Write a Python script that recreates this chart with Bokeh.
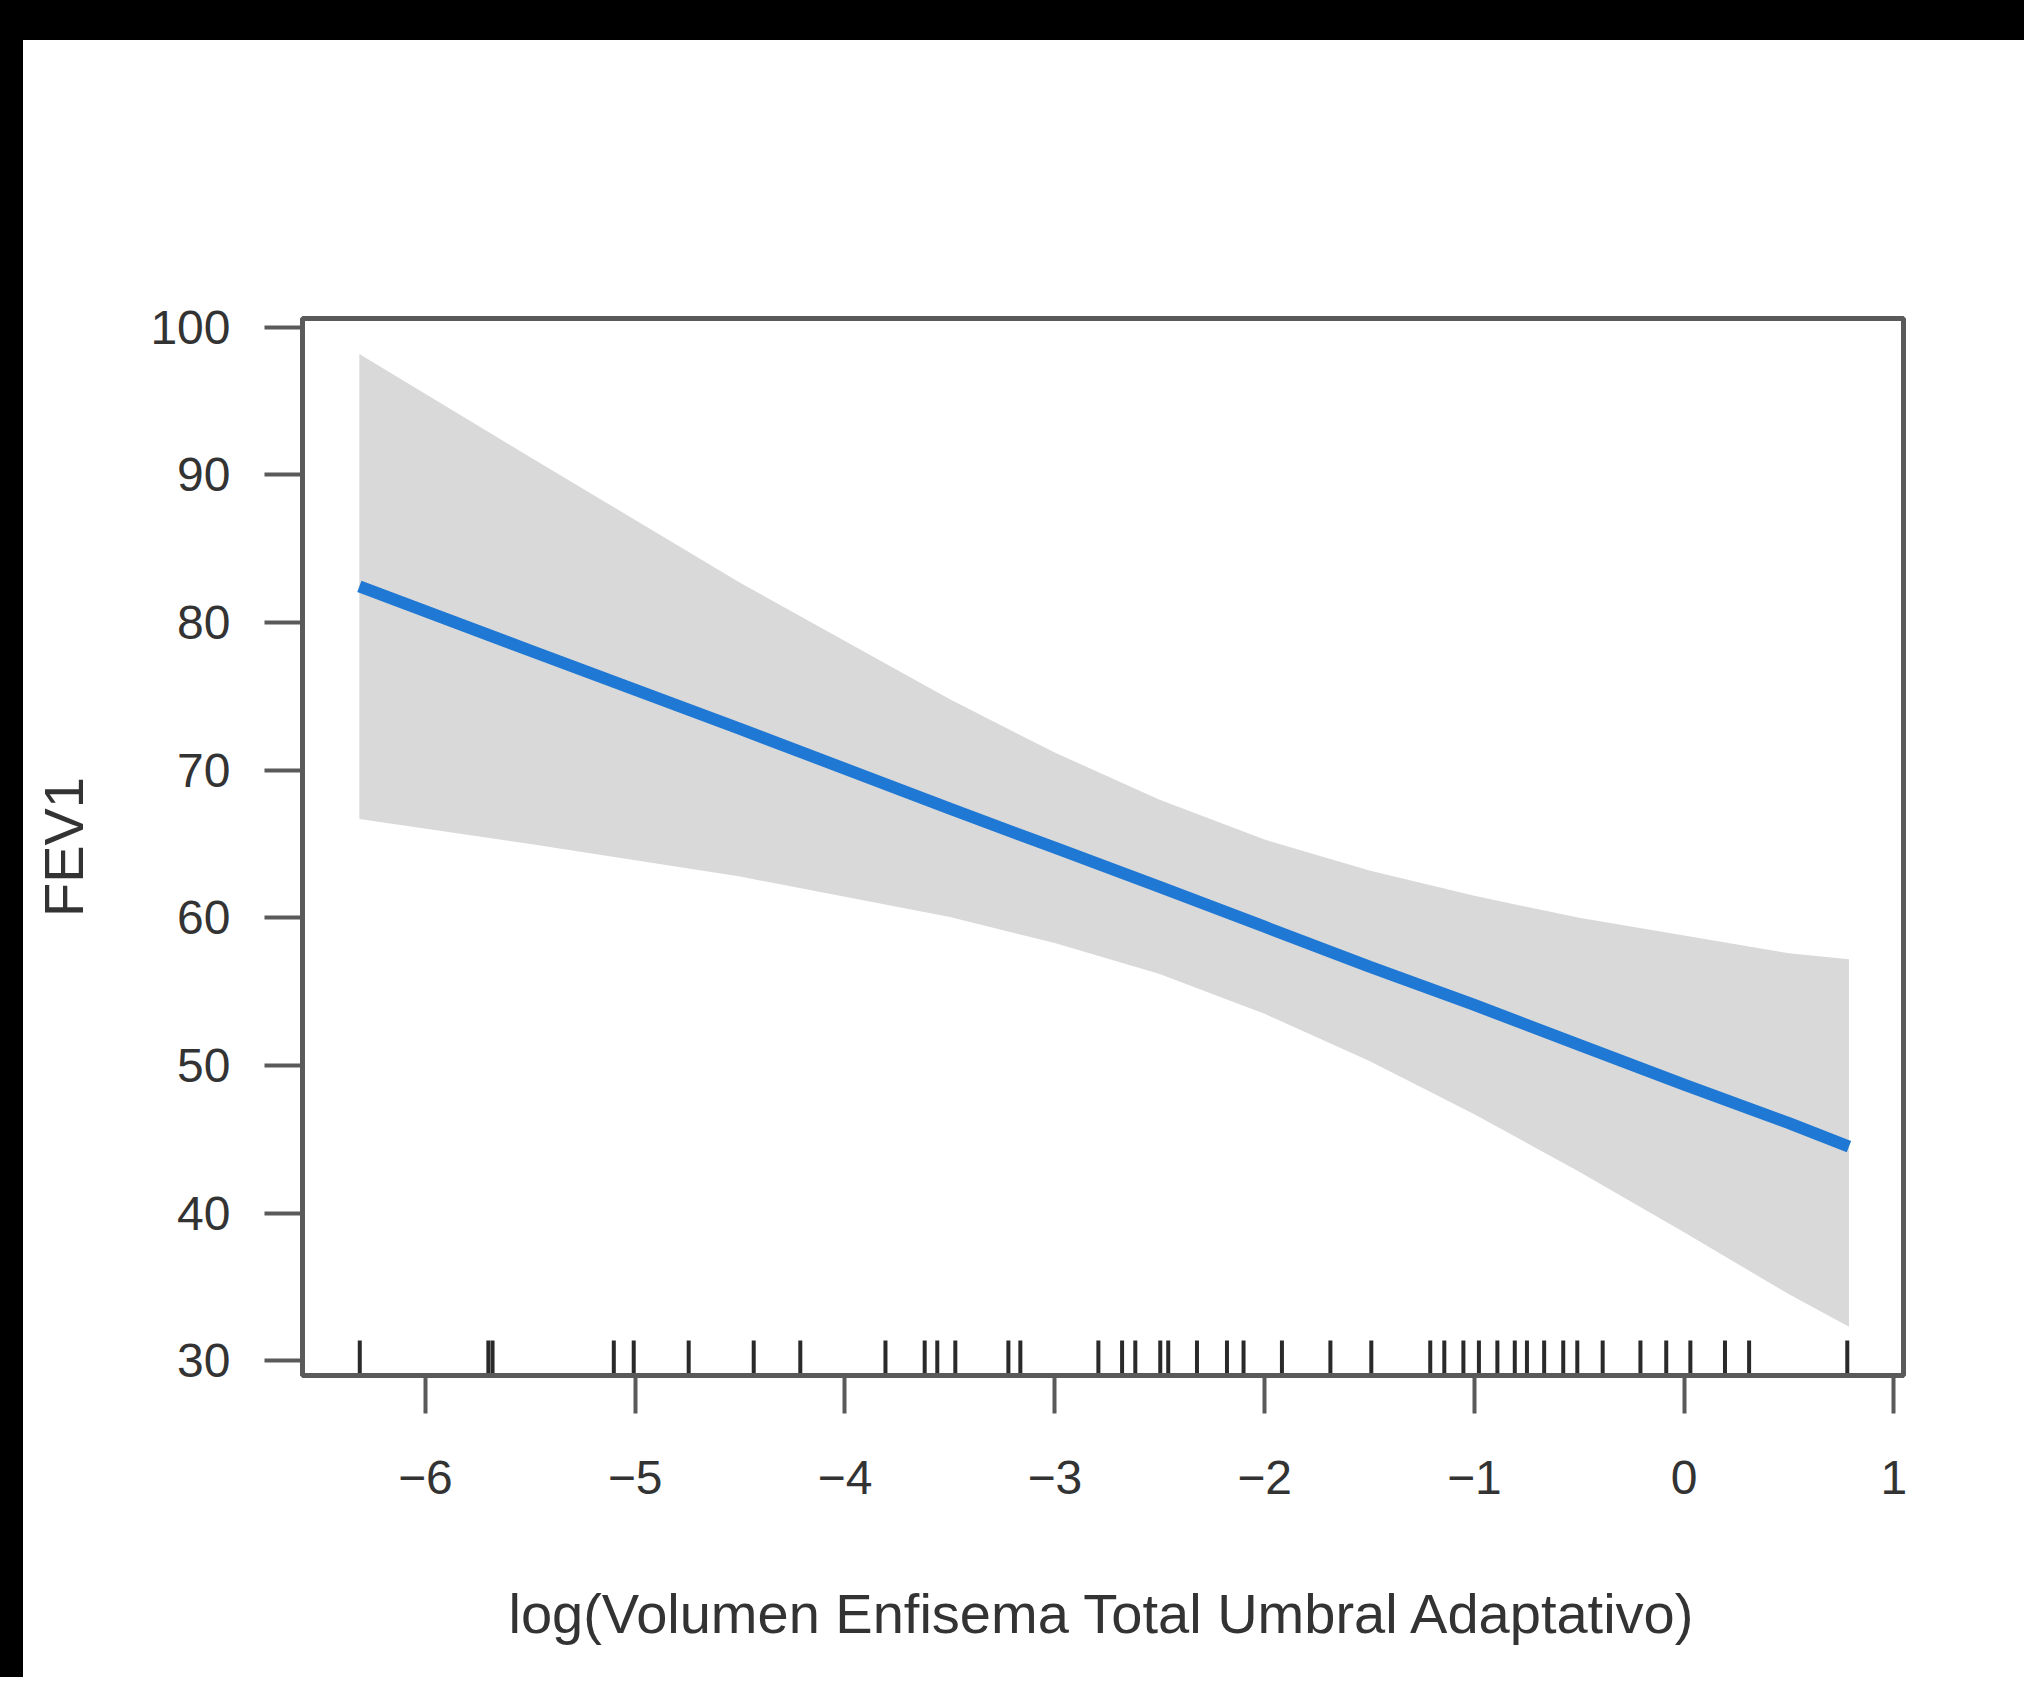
from bokeh.plotting import figure
from bokeh.models import FixedTicker, Range1d, Div
from bokeh.layouts import column, row
from bokeh.embed import file_html
from bokeh.resources import INLINE

# ---- data ----
x_grid = [-6.315, -5.5, -4.5, -3.5, -3.0, -2.5, -2.0, -1.5, -1.0, -0.5, 0.0, 0.5, 0.786]
fit = [82.45, 78.1, 72.8, 67.4, 64.75, 62.1, 59.4, 56.7, 54.1, 51.4, 48.7, 46.1, 44.5]
upper = [98.2, 91.2, 82.7, 74.8, 71.2, 68.0, 65.3, 63.2, 61.5, 60.0, 58.8, 57.6, 57.2]
lower = [66.7, 65.0, 62.8, 60.05, 58.3, 56.2, 53.5, 50.3, 46.7, 42.8, 38.7, 34.5, 32.3]

rug_x = [-6.313, -5.70, -5.68, -5.102, -5.007, -4.745, -4.435, -4.213,
         -3.807, -3.62, -3.56, -3.474, -3.221, -3.164, -2.792, -2.679, -2.616,
         -2.497, -2.459, -2.322, -2.179, -2.100, -1.917, -1.686, -1.491,
         -1.210, -1.143, -1.052, -0.978, -0.890, -0.807, -0.749, -0.667,
         -0.576, -0.509, -0.388, -0.208, -0.085, 0.030, 0.195, 0.310, 0.778]

x_ticks = [-6, -5, -4, -3, -2, -1, 0, 1]
x_tick_labels = ["\u22126", "\u22125", "\u22124", "\u22123", "\u22122", "\u22121", "0", "1"]
y_ticks = [30, 40, 50, 60, 70, 80, 90, 100]

x_label = "log(Volumen Enfisema Total Umbral Adaptativo)"
y_label = "FEV1"

# ---- figure ----
FONT = "Liberation Sans"
TXT = "#333333"
LINE = "#5a5a5a"

y0, y1 = 29.0, 100.6
p = figure(width=1993, height=1637, output_backend="svg", toolbar_location=None,
           x_range=Range1d(-6.586, 1.046), y_range=Range1d(y0, y1),
           min_border_left=279, min_border_top=278, min_border_right=113,
           min_border_bottom=302, background_fill_color="white",
           border_fill_color="white", outline_line_color=LINE, outline_line_width=5)
p.grid.visible = False

p.varea(x=x_grid, y1=lower, y2=upper, fill_color="#d9d9d9", fill_alpha=1.0)
p.line(x=x_grid, y=fit, line_color="#1f78d4", line_width=12)

rug_h = 2.37
p.segment(x0=rug_x, y0=[y0] * len(rug_x), x1=rug_x, y1=[y0 + rug_h] * len(rug_x),
          line_color="#2a2a2a", line_width=4)

for ax in (p.xaxis[0], p.yaxis[0]):
    ax.axis_line_color = LINE
    ax.axis_line_width = 5
    ax.major_tick_line_color = LINE
    ax.major_tick_line_width = 4
    ax.major_tick_out = 38
    ax.major_tick_in = 0
    ax.minor_tick_line_color = None
    ax.major_label_text_font = FONT
    ax.major_label_text_font_size = "48px"
    ax.major_label_text_color = TXT
    ax.axis_label_text_font = FONT
    ax.axis_label_text_font_size = "56px"
    ax.axis_label_text_font_style = "normal"
    ax.axis_label_text_color = TXT

p.xaxis.ticker = FixedTicker(ticks=x_ticks)
p.xaxis.major_label_overrides = {t: s for t, s in zip(x_ticks, x_tick_labels)}
p.xaxis.major_label_standoff = 47
p.xaxis.axis_label = x_label
p.xaxis.axis_label_standoff = 85

p.yaxis.ticker = FixedTicker(ticks=y_ticks)
p.yaxis.major_label_standoff = 34
p.yaxis.axis_label = y_label
p.yaxis.axis_label_standoff = 52

top_band = Div(text="", width=2024, height=40, margin=0,
               styles={"background-color": "#000000"})
left_band = Div(text="", width=23, height=1637, margin=0,
                styles={"background-color": "#000000"})
layout = column(top_band, row(left_band, p, spacing=0), spacing=0)

open("out.html", "w").write(file_html(layout, INLINE))
